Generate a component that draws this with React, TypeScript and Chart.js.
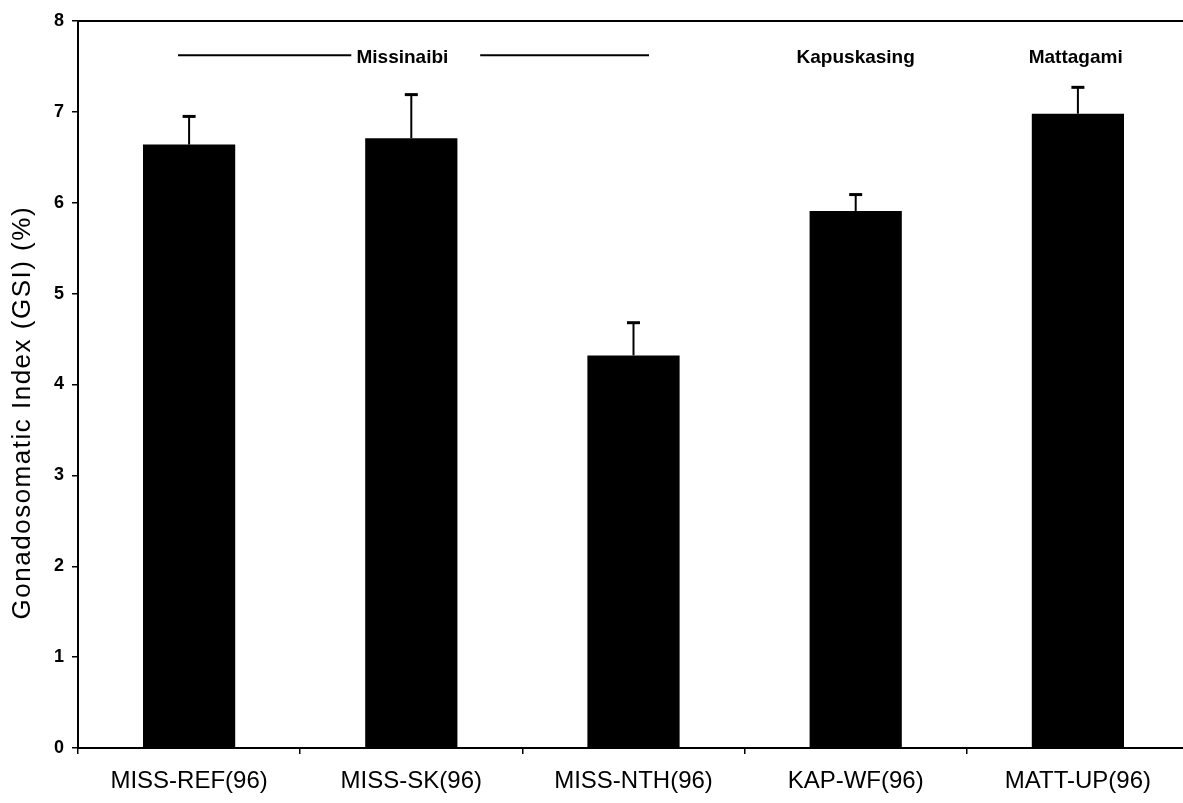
import React, { useEffect, useRef } from "react";
import { Chart, registerables } from "chart.js";

Chart.register(...registerables);

const categories = ["MISS-REF(96)", "MISS-SK(96)", "MISS-NTH(96)", "KAP-WF(96)", "MATT-UP(96)"];
const gsiMeans = [6.64, 6.71, 4.32, 5.91, 6.98];
const gsiUpper = [6.95, 7.19, 4.68, 6.09, 7.27];
const yTicks = [0, 1, 2, 3, 4, 5, 6, 7, 8];
const yTitle = "Gonadosomatic Index (GSI) (%)";
const groupLabels = ["Missinaibi", "Kapuskasing", "Mattagami"];
const groupCenters = [0.96, 3.0, 3.99];
const groupLabelValue = 7.6;
const missLineSegments = [[-0.05, 0.73], [1.31, 2.07]];

const FONT = "'Liberation Sans', Arial, sans-serif";

const extrasPlugin = {
  id: "extras",
  afterDatasetsDraw(chart: any) {
    const { ctx, chartArea, scales } = chart;
    const xs = scales.x;
    const ys = scales.y;
    const meta = chart.getDatasetMeta(0);
    ctx.save();
    // top frame line
    ctx.strokeStyle = "#000";
    ctx.lineWidth = 2;
    ctx.beginPath();
    ctx.moveTo(chartArea.left, chartArea.top);
    ctx.lineTo(chartArea.right, chartArea.top);
    ctx.stroke();
    // error bars
    meta.data.forEach((bar: any, i: number) => {
      const x = bar.x;
      const yTop = ys.getPixelForValue(gsiUpper[i]);
      ctx.lineWidth = 2;
      ctx.beginPath();
      ctx.moveTo(x, bar.y);
      ctx.lineTo(x, yTop);
      ctx.stroke();
      ctx.lineWidth = 3;
      ctx.beginPath();
      ctx.moveTo(x - 6.5, yTop);
      ctx.lineTo(x + 6.5, yTop);
      ctx.stroke();
    });
    // group labels
    const step = xs.getPixelForValue(1) - xs.getPixelForValue(0);
    const x0 = xs.getPixelForValue(0);
    const gy = ys.getPixelForValue(groupLabelValue);
    ctx.fillStyle = "#000";
    ctx.font = `bold 19px ${FONT}`;
    ctx.textAlign = "center";
    ctx.textBaseline = "middle";
    groupLabels.forEach((t, i) => {
      ctx.fillText(t, x0 + groupCenters[i] * step, gy);
    });
    ctx.lineWidth = 2;
    missLineSegments.forEach(([a, b]) => {
      ctx.beginPath();
      ctx.moveTo(x0 + a * step, gy - 2);
      ctx.lineTo(x0 + b * step, gy - 2);
      ctx.stroke();
    });
    // y-axis title
    ctx.save();
    ctx.translate(23, ys.getPixelForValue(3.69));
    ctx.rotate(-Math.PI / 2);
    ctx.font = `26px ${FONT}`;
    try { (ctx as any).letterSpacing = "1.5px"; } catch (e) {}
    ctx.textAlign = "center";
    ctx.textBaseline = "middle";
    ctx.fillText(yTitle, 0, 0);
    ctx.restore();
    ctx.restore();
  },
};

export default function App() {
  const ref = useRef<HTMLCanvasElement>(null);
  useEffect(() => {
    const chart = new Chart(ref.current!, {
      type: "bar",
      data: {
        labels: categories,
        datasets: [
          {
            data: gsiMeans,
            backgroundColor: "#000",
            borderWidth: 0,
            categoryPercentage: 1,
            barPercentage: 0.415,
          },
        ],
      },
      options: {
        animation: false,
        responsive: false,
        devicePixelRatio: 1,
        layout: { padding: { top: 21, right: 0, left: 0, bottom: 0 } },
        plugins: { legend: { display: false }, tooltip: { enabled: false } },
        scales: {
          x: {
            offset: true,
            grid: { display: true, drawOnChartArea: false, offset: true, tickLength: 6, color: "#000", lineWidth: 1.5 },
            border: { display: true, color: "#000", width: 2 },
            ticks: { color: "#000", font: { family: FONT, size: 24 }, padding: 13, maxRotation: 0, autoSkip: false },
            afterFit: (s: any) => { s.height = 55; },
          },
          y: {
            min: 0,
            max: 8,
            afterBuildTicks: (s: any) => { s.ticks = yTicks.map((v) => ({ value: v })); },
            grid: { display: true, drawOnChartArea: false, tickLength: 6, color: "#000", lineWidth: 1.5 },
            border: { display: true, color: "#000", width: 2 },
            ticks: { color: "#000", font: { family: FONT, size: 18, weight: "bold" }, padding: 8 },
            title: { display: false },
            afterFit: (s: any) => { s.width = 78; },
          },
        },
      },
      plugins: [extrasPlugin],
    });
    return () => chart.destroy();
  }, []);
  return (
    <div style={{ position: "fixed", left: 0, top: 0, width: 1183, height: 803, overflow: "hidden", background: "#fff" }}>
      <canvas ref={ref} width={1189} height={803} style={{ display: "block" }} />
    </div>
  );
}
